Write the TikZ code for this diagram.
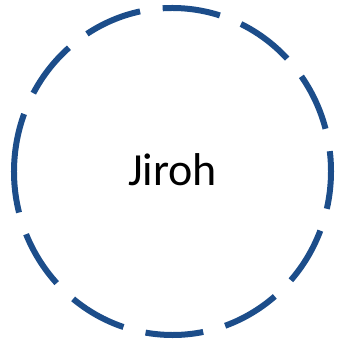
\documentclass[tikz,border=0pt]{standalone}
\usepackage{fontspec}
\setmainfont{Carlito}
\usepackage{xcolor}
\usepackage{tikz}
\definecolor{ringblue}{RGB}{28,77,138}

\begin{document}
\begin{tikzpicture}[
  x=1pt, y=1pt,
  ring/.style={draw=ringblue, line width=6pt, dash pattern=on 58pt off 22.8pt},
  label/.style={font=\fontsize{46}{50}\selectfont, anchor=base}
]
\useasboundingbox (0,0) rectangle (342,343);

\coordinate (ctr) at (172.5,171.5);

% dashed ring, started so the seam falls on the left
\draw[ring] (ctr) ++(174.2:158.5 and 163.5)
  arc[start angle=174.2, delta angle=360, x radius=158.5, y radius=163.5];

\node[label] (name) at (172.5,157) {Jiroh};

\end{tikzpicture}
\end{document}
